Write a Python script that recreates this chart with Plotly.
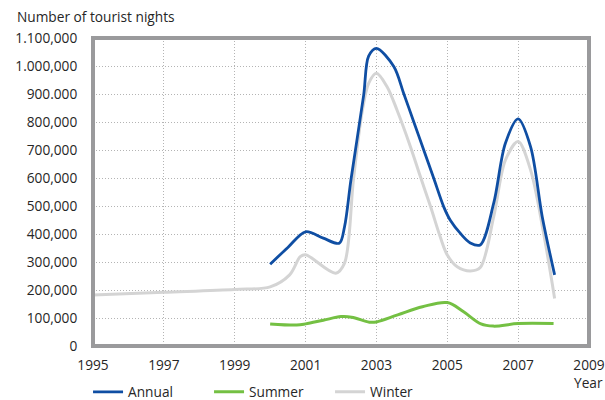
import plotly.graph_objects as go

# ---- data ----
years_annual = [2000.0, 2000.5, 2001.0, 2001.5, 2001.95, 2002.1, 2002.28, 2002.64, 2002.78, 2003.0,
                2003.49, 2003.77, 2004.05, 2004.33, 2004.62, 2004.9, 2005.09, 2005.37, 2005.65, 2005.93,
                2006.31, 2006.64, 2007.0, 2007.35, 2007.68, 2008.03]
annual = [292000, 352000, 408000, 385000, 367000, 426000, 593000, 896000, 1035000, 1063000,
          998000, 902000, 802000, 702000, 598000, 497000, 448000, 402000, 368000, 361000,
          510000, 724000, 811000, 712000, 462000, 254000]

years_summer = [2000.0, 2000.75, 2001.0, 2001.5, 2002.0, 2002.3, 2002.8, 2003.0, 2003.6, 2004.3,
                2005.0, 2005.45, 2005.95, 2006.3, 2007.0, 2008.0]
summer = [79000, 75000, 79000, 92000, 105000, 103000, 85000, 86000, 111000, 140000,
          155000, 123000, 79000, 71000, 80000, 80000]

years_winter = [1995, 1997, 1999, 2000.0, 2000.55, 2000.85, 2001.0, 2001.85, 2002.1, 2002.35,
                2002.59, 2002.78, 2003.0, 2003.3, 2003.58, 2003.96, 2004.24, 2004.53, 2004.8, 2005.0,
                2005.28, 2005.65, 2005.93, 2006.31, 2006.64, 2007.0, 2007.35, 2007.72, 2008.03]
winter = [182000, 192000, 202000, 211000, 254000, 319000, 326000, 260000, 296000, 593000,
          831000, 938000, 974000, 926000, 843000, 712000, 605000, 497000, 390000, 325000,
          283000, 268000, 280000, 462000, 664000, 730000, 629000, 402000, 170000]

x_ticks = [1995, 1997, 1999, 2001, 2003, 2005, 2007, 2009]
y_ticks = [0, 100000, 200000, 300000, 400000, 500000, 600000, 700000, 800000, 900000, 1000000, 1100000]
y_ticktext = ["0", "100,000", "200,000", "300,000", "400,000", "500,000", "600,000",
              "700,000", "800,000", "900.000", "1.000,000", "1.100,000"]

FONT = "Open Sans"
FS = 13.7
TXT = "#262626"

fig = go.Figure()
fig.add_trace(go.Scatter(x=years_winter, y=winter, name="Winter", mode="lines",
                         line=dict(color="#d4d4d4", width=3, shape="spline", smoothing=0.9),
                         legendrank=3))
fig.add_trace(go.Scatter(x=years_summer, y=summer, name="Summer", mode="lines",
                         line=dict(color="#74c043", width=3, shape="spline", smoothing=1),
                         legendrank=2))
fig.add_trace(go.Scatter(x=years_annual, y=annual, name="Annual", mode="lines",
                         line=dict(color="#0f4ea3", width=2.8, shape="spline", smoothing=0.9),
                         legendrank=1))

fig.update_layout(
    width=605, height=400,
    margin=dict(l=93, r=16, t=38, b=54, autoexpand=False),
    paper_bgcolor="white", plot_bgcolor="white",
    font=dict(family=FONT, size=FS, color=TXT),
    showlegend=True,
    legend=dict(orientation="h", x=-0.010, y=-0.149, xanchor="left", yanchor="middle",
                entrywidth=76, entrywidthmode="pixels",
                font=dict(family=FONT, size=FS, color=TXT), bgcolor="rgba(0,0,0,0)"),
    xaxis=dict(range=[1995, 2009], tickvals=x_ticks, showgrid=True, gridcolor="#b4b4b4",
               griddash="1px,2px", gridwidth=1, zeroline=False, showline=False,
               ticks="outside", ticklen=7, tickcolor="rgba(0,0,0,0)", automargin=False,
               tickfont=dict(family=FONT, size=FS, color=TXT)),
    yaxis=dict(range=[0, 1100000], tickvals=y_ticks, ticktext=y_ticktext, showgrid=True,
               gridcolor="#b4b4b4", griddash="1px,2px", gridwidth=1, zeroline=False, showline=False,
               ticks="outside", ticklen=12, tickcolor="rgba(0,0,0,0)", automargin=False,
               tickfont=dict(family=FONT, size=FS, color=TXT)),
    shapes=[dict(type="rect", xref="paper", yref="paper", x0=0, x1=1, y0=0, y1=1,
                 line=dict(color="#9a9a9c", width=4), layer="above")],
    annotations=[
        dict(text="Number of tourist nights", xref="paper", yref="paper", x=-0.157, y=1.071,
             xanchor="left", yanchor="middle", showarrow=False,
             font=dict(family=FONT, size=FS, color=TXT)),
        dict(text="Year", xref="paper", yref="paper", x=1.032, y=-0.120,
             xanchor="right", yanchor="middle", showarrow=False,
             font=dict(family=FONT, size=FS, color=TXT)),
    ],
)

fig.write_html("out.html", config={"displayModeBar": False},
               post_script="document.body.style.margin='0';document.body.style.overflow='hidden';")
